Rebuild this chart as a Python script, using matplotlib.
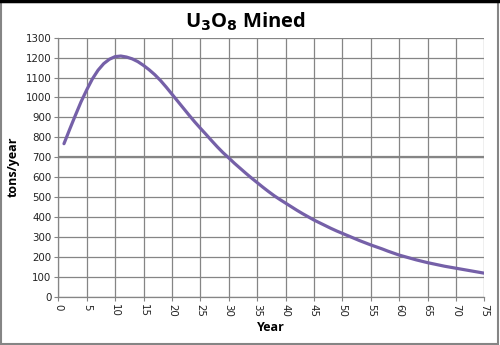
import matplotlib
matplotlib.use("Agg")
import matplotlib.pyplot as plt
from matplotlib.patches import Rectangle
from matplotlib.lines import Line2D

years = list(range(1, 76))
tons = [768, 840, 910, 978, 1038, 1093, 1137, 1170, 1192, 1205,
        1208, 1203, 1194, 1180, 1161, 1139, 1114, 1085, 1052, 1017,
        982, 947, 912, 878, 846, 815, 783, 752, 723, 697,
        670, 645, 620, 596, 573, 550, 528, 507, 488, 470,
        452, 434, 417, 401, 385, 371, 357, 343, 330, 318,
        306, 294, 282, 271, 260, 250, 240, 229, 219, 209,
        201, 193, 185, 178, 171, 165, 159, 153, 148, 143,
        138, 133, 128, 123, 118]
x_ticks = list(range(0, 80, 5))
y_ticks = list(range(0, 1400, 100))
ref_level = 700

fig = plt.figure(figsize=(5.0, 3.45), dpi=100)
ax = fig.add_axes([0.1166, 0.14, 0.852, 0.7507])

ax.plot(years, tons, color="#7560A8", lw=2.3, solid_capstyle="round", zorder=3)
ax.axhline(ref_level, color="#858585", lw=1.6, zorder=2)

ax.set_xlim(0, 75)
ax.set_ylim(0, 1300)
ax.set_xticks(x_ticks)
ax.set_yticks(y_ticks)
ax.set_xticklabels([str(v) for v in x_ticks], rotation=-90, fontsize=7.4, color="#222222")
ax.set_yticklabels([str(v) for v in y_ticks], fontsize=7.4, color="#222222")
ax.tick_params(axis="both", direction="out", length=3, width=0.8, color="#858585", pad=2)
ax.grid(True, color="#858585", lw=0.9)
ax.set_axisbelow(True)
for s in ["top", "right"]:
    ax.spines[s].set_visible(False)
for s in ["left", "bottom"]:
    ax.spines[s].set_color("#858585")
    ax.spines[s].set_linewidth(0.9)

ax.set_xlabel("Year", fontsize=9, fontweight="bold", family="Open Sans", labelpad=3)
ax.set_ylabel("tons/year", fontsize=9, fontweight="bold", family="Open Sans", labelpad=4)
fig.text(0.49, 0.937, r"U$_\mathbf{3}$O$_\mathbf{8}$ Mined", ha="center", va="center",
         fontsize=14.5, fontweight="bold", family="Open Sans")

fig.patches.append(Rectangle((0.002, 0.003), 0.994, 0.99, transform=fig.transFigure,
                             fill=False, edgecolor="#858585", lw=1.5))
fig.lines.append(Line2D([0, 1], [0.996, 0.996], transform=fig.transFigure, color="black", lw=2.5))

fig.savefig("out.png", dpi=100)
